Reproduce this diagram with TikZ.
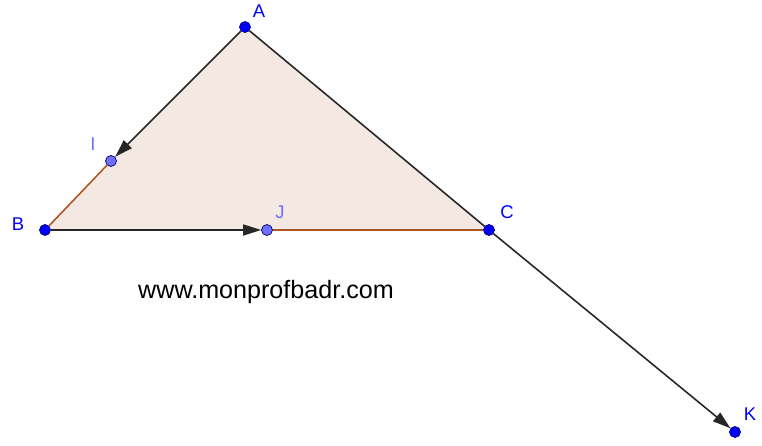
\documentclass[tikz,border=0pt]{standalone}
\usepackage{fontspec}
\setmainfont{Liberation Sans}
\definecolor{ptblue}{RGB}{0,0,255}
\definecolor{ptlight}{RGB}{110,110,255}
\definecolor{trifill}{RGB}{244,232,226}
\definecolor{rust}{RGB}{175,85,35}
\usetikzlibrary{arrows.meta, backgrounds}

\begin{document}
\begin{tikzpicture}[
    x=0.02cm, y=-0.02cm,
    pt/.style={circle, draw=blue!45!black, line width=0.4pt, fill=ptblue, inner sep=0pt, minimum size=0.22cm},
    ptl/.style={pt, fill=ptlight},
    lbl/.style={font=\fontsize{10.5}{12}\selectfont, text=ptblue},
    lbll/.style={lbl, text=ptlight},
    seg/.style={rust, line width=0.9pt},
    edge/.style={black!85, line width=0.9pt},
    vec/.style={edge, -{Triangle[length=0.36cm, width=0.22cm]}}
]
    \useasboundingbox (0,0) rectangle (762,446);

    \node[pt] (A) at (245,27) {};
    \node[pt] (B) at (45,230) {};
    \node[pt] (C) at (489,230) {};
    \node[ptl] (I) at (111,161) {};
    \node[ptl] (J) at (267,230) {};
    \node[pt] (K) at (735,432) {};

    \begin{pgfonlayer}{background}
        \fill[trifill] (A.center) -- (B.center) -- (C.center) -- cycle;
    \end{pgfonlayer}

    \draw[seg] (I) -- (B);
    \draw[seg] (J) -- (C);
    \draw[edge] (A) -- (C);
    \draw[vec] (A) -- (I);
    \draw[vec] (B) -- (J);
    \draw[vec] (C) -- (K);

    \node[lbl] (lA) at (259,11) {A};
    \node[lbl] (lB) at (18,224) {B};
    \node[lbl] (lC) at (507,212) {C};
    \node[lbll] (lI) at (93,144) {I};
    \node[lbll] (lJ) at (280,212) {J};
    \node[lbl] (lK) at (750,414) {K};

    \node[font=\fontsize{14.3}{17}\selectfont] (site) at (266,292) {www.monprofbadr.com};
\end{tikzpicture}
\end{document}
